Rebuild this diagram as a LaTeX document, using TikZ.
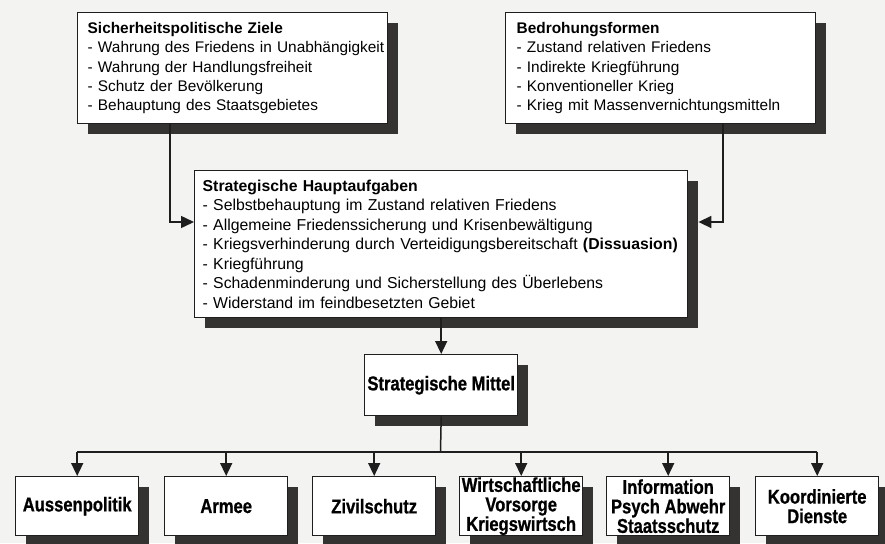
\documentclass[tikz,border=0pt]{standalone}
\usepackage{fontspec}
\setmainfont{Liberation Sans}
\newfontfamily\condfont[FakeStretch=0.83, BoldFeatures={FakeBold=0.8}]{Liberation Sans}
\usetikzlibrary{arrows.meta,shadows}
\definecolor{bgc}{RGB}{243,243,241}
\definecolor{linec}{RGB}{30,30,30}
\definecolor{shadowc}{RGB}{52,51,50}
\begin{document}
\begin{tikzpicture}[x=1pt,y=-1pt,
  box/.style={draw=linec, fill=white, line width=1.4pt, rectangle,
    drop shadow={shadow xshift=10pt, shadow yshift=-10pt, fill=shadowc, opacity=1}},
  textbox/.style={box, anchor=north west, align=left, inner xsep=10pt, inner ysep=0pt,
    font=\fontsize{15.4}{19.2}\selectfont},
  leafbox/.style={box, anchor=north west, align=center, inner xsep=1pt, inner ysep=0pt,
    minimum width=123pt, minimum height=59pt,
    font=\condfont\bfseries\fontsize{20}{19.5}\selectfont},
  conn/.style={draw=linec, line width=1.5pt},
  arr/.style={conn, -{Triangle[length=13pt,width=12pt]}}
]
\fill[bgc] (0,0) rectangle (885,543);
\useasboundingbox (0,0) rectangle (885,543);

\node[textbox, minimum width=310pt, minimum height=111pt, text width=290pt] (ziele) at (77,12)
  {\textbf{Sicherheitspolitische Ziele}\\
   \mbox{- Wahrung des Friedens in Unabhängigkeit}\\
   - Wahrung der Handlungsfreiheit\\
   - Schutz der Bevölkerung\\
   - Behauptung des Staatsgebietes};

\node[textbox, minimum width=310pt, minimum height=111pt, text width=288pt, inner xsep=11pt] (bedroh) at (505,12)
  {\textbf{Bedrohungsformen}\\
   - Zustand relativen Friedens\\
   - Indirekte Kriegführung\\
   - Konventioneller Krieg\\
   - Krieg mit Massenvernichtungsmitteln};

\node[textbox, minimum width=493pt, minimum height=147pt, text width=477pt, inner xsep=8pt, font=\fontsize{15.8}{19.5}\selectfont] (haupt) at (194,170)
  {\textbf{Strategische Hauptaufgaben}\\
   - Selbstbehauptung im Zustand relativen Friedens\\
   - Allgemeine Friedenssicherung und Krisenbewältigung\\
   \mbox{- Kriegsverhinderung durch Verteidigungsbereitschaft \textbf{(Dissuasion)}}\\
   - Kriegführung\\
   - Schadenminderung und Sicherstellung des Überlebens\\
   - Widerstand im feindbesetzten Gebiet};

\node[leafbox, minimum width=153pt, minimum height=61pt] (mittel) at (364,354) {Strategische Mittel};

\node[leafbox] (b1) at (15,476) {Aussenpolitik};
\node[leafbox] (b2) at (164,476) {Armee};
\node[leafbox] (b3) at (312,476) {Zivilschutz};
\node[leafbox] (b4) at (459,476) {Wirtschaftliche\\Vorsorge\\Kriegswirtsch};
\node[leafbox] (b5) at (606,476) {Information\\Psych Abwehr\\Staatsschutz};
\node[leafbox] (b6) at (755,476) {Koordinierte\\Dienste};

\coordinate (lj) at (170,222);
\coordinate (rj) at (723,222);
\coordinate (hr) at ([xshift=10pt]haupt.east);
\coordinate (bus) at (440.5,452);

\draw[arr] (lj |- ziele.south) |- (haupt.west |- lj);
\draw[arr] (rj |- bedroh.south) |- (hr |- rj);
\draw[arr] (haupt.south) -- (mittel.north);
\draw[conn] (mittel.south) -- (bus);
\draw[conn] (b1.north |- bus) -- (b6.north |- bus);
\foreach \b in {b1,b2,b3,b4,b5,b6}
  \draw[arr] (\b.north |- bus) -- (\b.north);
\end{tikzpicture}
\end{document}
